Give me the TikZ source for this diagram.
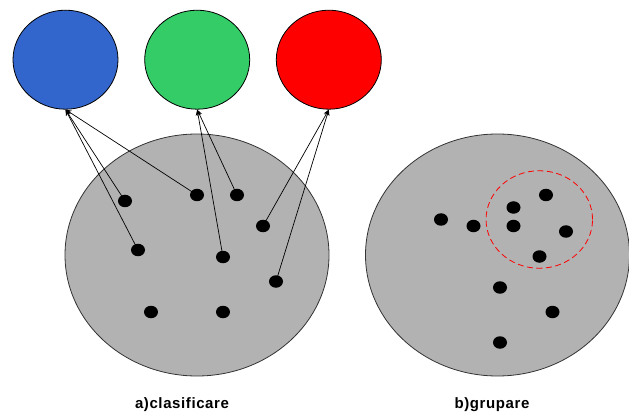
\documentclass[tikz,border=0pt]{standalone}
\usepackage{fontspec}
\setmainfont{Liberation Sans}
\usetikzlibrary{shapes.geometric,arrows.meta}
\definecolor{cblue}{RGB}{51,102,204}
\definecolor{cgreen}{RGB}{51,204,102}
\definecolor{cred}{RGB}{255,0,0}
\definecolor{cgray}{RGB}{178,178,178}
\begin{document}
\begin{tikzpicture}[x=1pt,y=-1pt,
  classnode/.style={ellipse,draw=black,line width=0.8pt,inner sep=0pt,minimum width=105pt,minimum height=99pt},
  setnode/.style={ellipse,draw=black!80,line width=0.8pt,fill=cgray,inner sep=0pt,minimum width=264pt,minimum height=242pt},
  dotnode/.style={ellipse,fill=black,inner sep=0pt,minimum width=14pt,minimum height=12.5pt},
  link/.style={line width=0.7pt,-{Stealth[length=6pt,width=5pt]}},
  caption/.style={font=\fontsize{15}{18}\selectfont\bfseries\addfontfeatures{LetterSpace=4}}]
\useasboundingbox (0,0) rectangle (629,414);
\node[classnode,fill=cblue] (blue) at (65.5,59.7) {};
\node[classnode,fill=cgreen] (green) at (197.2,59.7) {};
\node[classnode,fill=cred] (red) at (328.8,59.7) {};
\node[setnode] (setA) at (197,255) {};
\node[setnode] (setB) at (497.5,255) {};
% left dots
\node[dotnode] (a1) at (125,201) {};
\node[dotnode] (a2) at (197,195) {};
\node[dotnode] (a3) at (237,195) {};
\node[dotnode] (a4) at (263,226) {};
\node[dotnode] (a5) at (138,250) {};
\node[dotnode] (a6) at (223,257) {};
\node[dotnode] (a7) at (276,281.5) {};
\node[dotnode] (a8) at (151,312) {};
\node[dotnode] (a9) at (223,312) {};
% right dots
\node[dotnode] (b1) at (441,219.5) {};
\node[dotnode] (b2) at (473.5,226) {};
\node[dotnode] (b3) at (513.5,207.5) {};
\node[dotnode] (b4) at (513.5,226) {};
\node[dotnode] (b5) at (546,195) {};
\node[dotnode] (b6) at (566,231.5) {};
\node[dotnode] (b7) at (539.5,256.5) {};
\node[dotnode] (b8) at (500,287.5) {};
\node[dotnode] (b9) at (552.5,312) {};
\node[dotnode] (b10) at (500,342.5) {};
\node[ellipse,draw=cred,dashed,dash pattern=on 6pt off 3.5pt,line width=0.8pt,inner sep=0pt,minimum width=106.5pt,minimum height=97.5pt] (cluster) at (539.3,219.5) {};
% links
\draw[link] (a1.center) -- (blue.south);
\draw[link] (a5.center) -- (blue.south);
\draw[link] (a2.center) -- (blue.south);
\draw[link] (a6.center) -- (green.south);
\draw[link] (a3.center) -- (green.south);
\draw[link] (a4.center) -- (red.south);
\draw[link] (a7.center) -- (red.south);
% captions
\node[caption] (capA) at (182,405) {a)clasificare};
\node[caption] (capB) at (492,405) {b)grupare};
\end{tikzpicture}
\end{document}
